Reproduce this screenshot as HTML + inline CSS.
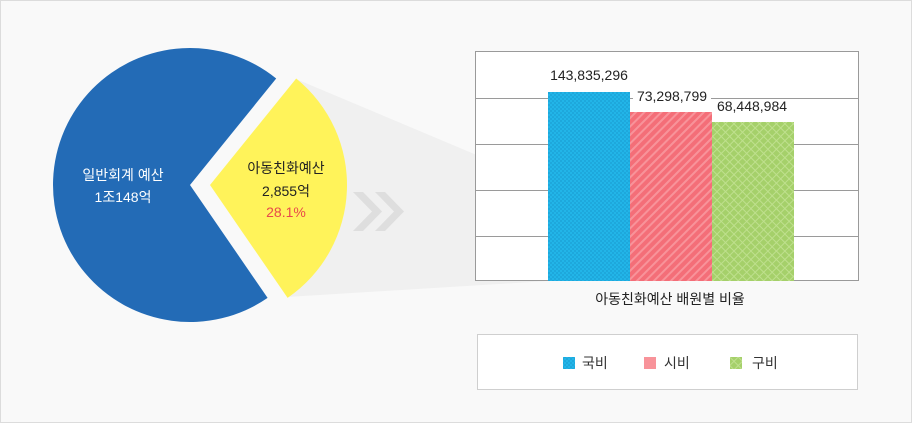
<!DOCTYPE html>
<html><head><meta charset="utf-8"><style>
html,body{margin:0;padding:0}
body{width:912px;height:423px;overflow:hidden;font-family:"Liberation Sans","Noto Sans CJK KR",sans-serif}
</style></head><body>
<svg width="912" height="423" xmlns="http://www.w3.org/2000/svg" font-family="Liberation Sans, Noto Sans CJK KR, sans-serif">
<defs>
<pattern id="pb" width="4" height="4" patternUnits="userSpaceOnUse"><rect width="4" height="4" fill="#22b5e8"/><rect x="0" y="0" width="2" height="2" fill="#1ea8dc"/><rect x="2" y="2" width="2" height="2" fill="#1ea8dc"/></pattern>
<pattern id="pr" width="6" height="6" patternUnits="userSpaceOnUse" patternTransform="rotate(45)"><rect width="6" height="6" fill="#f46e78"/><rect width="2" height="6" fill="#f8939a"/></pattern>
<pattern id="pg" width="6" height="6" patternUnits="userSpaceOnUse" patternTransform="rotate(45)"><rect width="6" height="6" fill="#a5d06a"/><rect width="1" height="6" fill="#bfe08e"/><rect width="6" height="1" fill="#bfe08e"/></pattern>
</defs>
<rect x="0.5" y="0.5" width="911" height="422" fill="#f9f9f9" stroke="#dcdcdc"/>
<polygon points="296,79 548,185 548,281 287,297" fill="#f0f0f0"/>
<path d="M190,185 L276.2,78.5 A137,137 0 1,0 267.6,297.9 Z" fill="#236bb6"/>
<path d="M210,185 L296.2,78.5 A137,137 0 0,1 287.6,297.9 Z" fill="#fff35a"/>
<polygon points="353,192 363,192 382,211.5 363,231 353,231 372,211.5" fill="#dedede"/>
<polygon points="375,192 385,192 404,211.5 385,231 375,231 394,211.5" fill="#dedede"/>
<g font-size="14" text-anchor="middle">
<text x="123" y="180" fill="#fff">일반회계 예산</text>
<text x="123" y="202" fill="#fff">1조148억</text>
<text x="286" y="173" fill="#222">아동친화예산</text>
<text x="286" y="196" fill="#222">2,855억</text>
<text x="286" y="217" fill="#e84a4a">28.1%</text>
</g>
<rect x="475.5" y="51.5" width="383" height="229" fill="#fff" stroke="#9a9a9a"/>
<g stroke="#9a9a9a"><line x1="476" y1="98.5" x2="858" y2="98.5"/><line x1="476" y1="144.5" x2="858" y2="144.5"/><line x1="476" y1="190.5" x2="858" y2="190.5"/><line x1="476" y1="236.5" x2="858" y2="236.5"/></g>
<rect x="548" y="92" width="82" height="189" fill="url(#pb)"/>
<rect x="630" y="112" width="82" height="169" fill="url(#pr)"/>
<rect x="712" y="122" width="82" height="159" fill="url(#pg)"/>
<g font-size="14" text-anchor="middle" fill="#222">
<text x="589" y="80">143,835,296</text>
<rect x="633" y="88" width="78" height="15" fill="#fff"/>
<text x="672" y="101">73,298,799</text>
<text x="752" y="111">68,448,984</text>
<text x="670" y="304">아동친화예산 배원별 비율</text>
</g>
<rect x="477.5" y="334.5" width="380" height="55" fill="#fff" stroke="#cfcfcf"/>
<rect x="563" y="357" width="12" height="12" fill="url(#pb)"/>
<rect x="644" y="357" width="12" height="12" fill="#f8939a"/>
<rect x="730" y="357" width="12" height="12" fill="url(#pg)"/>
<g font-size="14" fill="#333"><text x="582" y="368">국비</text><text x="664" y="368">시비</text><text x="752" y="368">구비</text></g>
</svg>
</body></html>
